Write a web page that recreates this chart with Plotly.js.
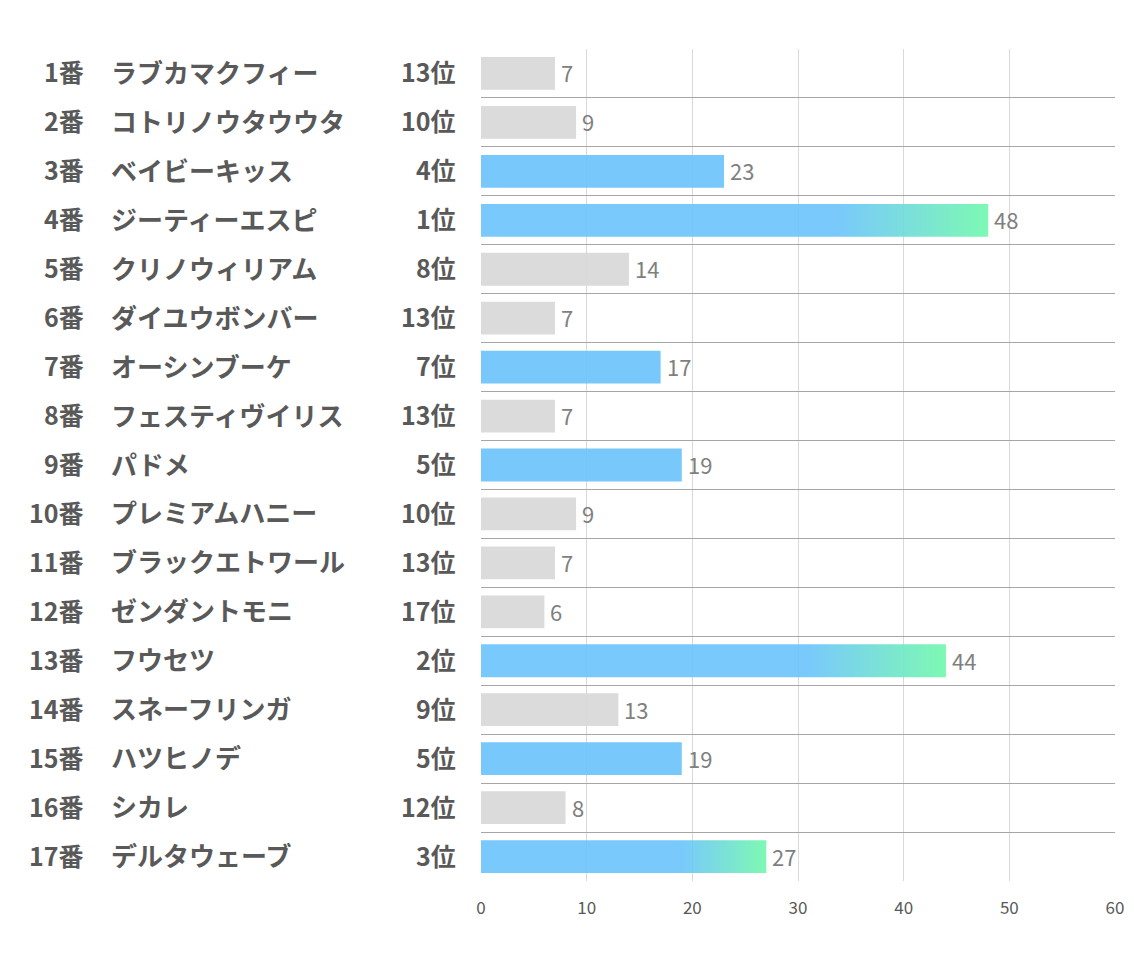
<!DOCTYPE html>
<html>
<head>
<meta charset="utf-8">
<script src="https://cdn.plot.ly/plotly-3.0.1.min.js"></script>
<style>html,body{margin:0;padding:0;background:#fff;}#chart{width:1134px;height:964px;}</style>
</head>
<body>
<div id="chart"></div>
<script>
const numbers = ['1番','2番','3番','4番','5番','6番','7番','8番','9番','10番','11番','12番','13番','14番','15番','16番','17番'];
const horseNames = ['ラブカマクフィー','コトリノウタウウタ','ベイビーキッス','ジーティーエスピ','クリノウィリアム','ダイユウボンバー','オーシンブーケ','フェスティヴイリス','パドメ','プレミアムハニー','ブラックエトワール','ゼンダントモニ','フウセツ','スネーフリンガ','ハツヒノデ','シカレ','デルタウェーブ'];
const rankLabels = ['13位','10位','4位','1位','8位','13位','7位','13位','5位','10位','13位','17位','2位','9位','5位','12位','3位'];
const scores = [7,9,23,48,14,7,17,7,19,9,7,6,44,13,19,8,27];
const xTicks = [0,10,20,30,40,50,60];

const FONT = '"Noto Sans CJK JP", "Noto Sans", sans-serif';
const GREY = '#d9d9d9';
const BLUE = '#6dc4fc';
const GREEN = '#72f8ad';
const BAR_W = 0.67;
const idx = scores.map((_, i) => i);
const rankNum = rankLabels.map(r => parseInt(r, 10));

const traces = [];
const plainIdx = idx.filter(i => rankNum[i] > 3);
traces.push({
  type: 'bar', orientation: 'h',
  x: plainIdx.map(i => scores[i]), y: plainIdx,
  width: BAR_W,
  marker: {color: plainIdx.map(i => rankNum[i] <= 7 ? BLUE : GREY), line: {width: 0}},
  opacity: 0.92,
  hoverinfo: 'skip'
});
idx.filter(i => rankNum[i] <= 3).forEach(i => {
  const v = scores[i], h = BAR_W / 2;
  traces.push({
    type: 'scatter', mode: 'lines',
    x: [0, v, v, 0, 0], y: [i - h, i - h, i + h, i + h, i - h],
    fill: 'toself',
    fillgradient: {type: 'horizontal', start: 0, stop: v,
      colorscale: [[0, BLUE], [0.7, BLUE], [1, GREEN]]},
    line: {width: 0, color: 'rgba(0,0,0,0)'},
    opacity: 0.92,
    hoverinfo: 'skip', showlegend: false
  });
});

const plotL = 481, plotW = 634;
const px = p => (p - plotL) / plotW;
const annotations = [];
idx.forEach(i => {
  const f = {family: FONT, size: 25, color: '#595959', weight: 'bold'};
  const fn = {family: FONT, size: 26, color: '#595959', weight: 'bold'};
  annotations.push({xref: 'paper', yref: 'y', x: px(86), y: i, yshift: 2, text: numbers[i], showarrow: false, xanchor: 'right', yanchor: 'middle', font: f});
  annotations.push({xref: 'paper', yref: 'y', x: px(109), y: i, yshift: 2, text: horseNames[i], showarrow: false, xanchor: 'left', yanchor: 'middle', font: fn});
  annotations.push({xref: 'paper', yref: 'y', x: px(458), y: i, yshift: 2, text: rankLabels[i], showarrow: false, xanchor: 'right', yanchor: 'middle', font: f});
  annotations.push({xref: 'x', yref: 'y', x: scores[i], y: i, xshift: 4, yshift: 1, text: String(scores[i]), showarrow: false, xanchor: 'left', yanchor: 'middle', font: {family: FONT, size: 22, color: '#7f7f7f'}});
});

const rowBounds = [];
for (let k = 0; k <= scores.length; k++) rowBounds.push(k - 0.5);

const layout = {
  width: 1134, height: 964,
  margin: {l: 481, r: 19, t: 49, b: 83},
  paper_bgcolor: '#fff', plot_bgcolor: '#fff',
  showlegend: false,
  barmode: 'overlay',
  xaxis: {
    range: [0, 60], tickvals: xTicks, ticktext: xTicks.map(String),
    showgrid: true, gridcolor: '#d9d9d9', gridwidth: 1,
    zeroline: false, showline: false, ticks: '',
    ticklabelstandoff: 15,
    tickfont: {family: FONT, size: 17, color: '#595959'},
    fixedrange: true
  },
  yaxis: {
    range: [16.5, -0.5], tickvals: rowBounds, showticklabels: false,
    showgrid: true, gridcolor: '#a6a6a6', gridwidth: 1,
    zeroline: false, showline: false, ticks: '', fixedrange: true
  },
  annotations: annotations
};

Plotly.newPlot('chart', traces, layout, {displayModeBar: false, staticPlot: true});
</script>
</body>
</html>
